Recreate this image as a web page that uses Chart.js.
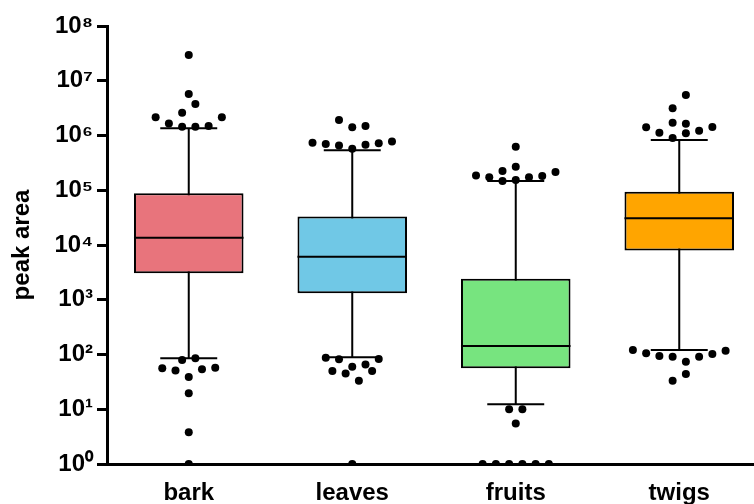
<!DOCTYPE html>
<html>
<head>
<meta charset="utf-8">
<script src="https://cdn.jsdelivr.net/npm/chart.js@4/dist/chart.umd.min.js"></script>
<style>
  html, body { margin: 0; padding: 0; background: #fff; overflow: hidden; }
  /* plot runs a little past the right edge of the window, as in the original */
  #wrap { width: 765px; height: 504px; }
</style>
</head>
<body>
<div id="wrap"><canvas id="boxChart"></canvas></div>
<script>
// box statistics (log scale)
const categories = ['bark', 'leaves', 'fruits', 'twigs'];
const q1 = [3040, 1310, 56, 7900];
const median = [13600, 6100, 143, 30700];
const q3 = [88000, 33000, 2430, 94000];
const whiskerLow = [85, 89, 12.3, 121];
const whiskerHigh = [1.35e6, 5.4e5, 1.48e5, 8.3e5];
const tickExponents = [0, 1, 2, 3, 4, 5, 6, 7, 8];

// outliers per group, with their swarm lane (half-steps left/right of centre)
const barkOutliers = [2.95e7, 5.7e6, 3.76e6, 2.6e6, 2.15e6, 2.15e6, 1.66e6, 1.44e6, 1.44e6, 1.49e6,
    79, 85, 56, 51, 54, 57.5, 39, 19.5, 3.8, 1];
const barkLanes = [0, 0, 0.5, -0.5, -2.5, 2.5, -1.5, -0.5, 0.5, 1.5,
    -0.5, 0.5, -2, -1, 1, 2, 0, 0, 0, 0];
const leavesOutliers = [1.92e6, 1.42e6, 1.49e6, 7.4e5, 7.0e5, 6.6e5, 5.7e5, 6.8e5, 7.2e5, 7.8e5,
    87, 82, 83, 50, 45, 60, 66, 50, 33, 1];
const leavesLanes = [-1, 0, 1, -3, -2, -1, 0, 1, 2, 3,
    -2, -1, 2, -1.5, -0.5, 0, 1, 1.5, 0.5, 0];
const fruitsOutliers = [6.25e5, 2.7e5, 2.25e5, 1.85e5, 1.72e5, 1.48e5, 1.54e5, 1.72e5, 1.82e5, 2.15e5,
    10, 10, 5.5, 1, 1, 1, 1, 1, 1];
const fruitsLanes = [0, 0, -1, -3, -2, -1, 0, 1, 2, 3,
    -0.5, 0.5, 0, -2.5, -1.5, -0.5, 0.5, 1.5, 2.5];
const twigsOutliers = [5.5e6, 3.14e6, 1.71e6, 1.64e6, 1.41e6, 1.12e6, 1.1e6, 1.22e6, 1.43e6, 9.0e5,
    121, 105, 94, 91, 74, 91, 102, 117, 44, 33];
const twigsLanes = [0.5, -0.5, -0.5, 0.5, -2.5, -1.5, 0.5, 1.5, 2.5, -0.5,
    -3.5, -2.5, -1.5, -0.5, 0.5, 1.5, 2.5, 3.5, 0.5, -0.5];

const boxColors = ['#E8747C', '#70C8E6', '#77E47F', '#FFA500'];
const laneStep = 0.081; // fraction of a category per swarm lane

const outlierGroups = [
    [barkOutliers, barkLanes],
    [leavesOutliers, leavesLanes],
    [fruitsOutliers, fruitsLanes],
    [twigsOutliers, twigsLanes]
];
let outlierPoints = [];
outlierGroups.forEach(([vals, lanes], i) => {
    vals.forEach((v, k) => outlierPoints.push({ x: i + lanes[k] * laneStep, y: v }));
});

const supDigits = ['\u2070', '\u00B9', '\u00B2', '\u00B3', '\u2074', '\u2075', '\u2076', '\u2077', '\u2078', '\u2079'];

const boxPlugin = {
    id: 'boxExtras',
    beforeDatasetsDraw(chart) {
        const ctx = chart.ctx, xs = chart.scales.x, ys = chart.scales.y;
        const meta = chart.getDatasetMeta(1);
        ctx.save();
        ctx.strokeStyle = '#000';
        ctx.lineWidth = 2;
        categories.forEach((c, i) => {
            const x = xs.getPixelForValue(i);
            const half = meta.data[i].width * 0.26;
            const yLo = ys.getPixelForValue(whiskerLow[i]);
            const yHi = ys.getPixelForValue(whiskerHigh[i]);
            ctx.beginPath();
            ctx.moveTo(x, yLo); ctx.lineTo(x, yHi);
            ctx.moveTo(x - half, yLo); ctx.lineTo(x + half, yLo);
            ctx.moveTo(x - half, yHi); ctx.lineTo(x + half, yHi);
            ctx.stroke();
        });
        ctx.restore();
    },
    afterDatasetDraw(chart, args) {
        if (args.index !== 1) return;
        const ctx = chart.ctx, ys = chart.scales.y;
        ctx.save();
        ctx.strokeStyle = '#000';
        ctx.lineWidth = 2;
        args.meta.data.forEach((bar, i) => {
            const y = ys.getPixelForValue(median[i]);
            ctx.beginPath();
            ctx.moveTo(bar.x - bar.width / 2, y);
            ctx.lineTo(bar.x + bar.width / 2, y);
            ctx.stroke();
        });
        ctx.restore();
    }
};

const ctx = document.getElementById('boxChart').getContext('2d');
new Chart(ctx, {
    data: {
        labels: categories,
        datasets: [
            {
                type: 'scatter',
                data: outlierPoints,
                xAxisID: 'xs',
                pointRadius: 4,
                pointHoverRadius: 4,
                backgroundColor: '#000',
                borderColor: '#000',
                borderWidth: 0,
                clip: { left: false, right: false, top: false, bottom: 0 }
            },
            {
                type: 'bar',
                data: categories.map((c, i) => [q1[i], q3[i]]),
                backgroundColor: boxColors,
                borderColor: '#000',
                borderWidth: 2,
                borderSkipped: false,
                grouped: false,
                categoryPercentage: 1,
                barPercentage: 0.67
            }
        ]
    },
    options: {
        responsive: true,
        maintainAspectRatio: false,
        animation: false,
        layout: { padding: { top: 26, right: 0, left: 0, bottom: 0 } },
        plugins: { legend: { display: false }, tooltip: { enabled: false } },
        scales: {
            x: {
                type: 'category',
                grid: { display: false, drawTicks: false },
                border: { display: true, color: '#000', width: 3 },
                ticks: {
                    color: '#000',
                    padding: 15,
                    font: { family: 'Liberation Sans, Arial, sans-serif', size: 24, weight: 'bold' }
                },
                afterFit(axis) { axis.height = 40; }
            },
            xs: {
                type: 'linear',
                display: false,
                min: -0.5,
                max: 3.5
            },
            y: {
                type: 'logarithmic',
                min: 1,
                max: 1e8,
                afterBuildTicks(axis) {
                    axis.ticks = tickExponents.map(e => ({ value: Math.pow(10, e) }));
                },
                grid: {
                    display: true,
                    drawOnChartArea: false,
                    drawTicks: true,
                    tickLength: 10,
                    tickWidth: 3,
                    tickColor: '#000'
                },
                border: { display: true, color: '#000', width: 3 },
                ticks: {
                    color: '#000',
                    padding: 4,
                    font: { family: 'Liberation Sans, Arial, sans-serif', size: 24, weight: 'bold' },
                    callback: (v) => {
                        const e = Math.round(Math.log10(v));
                        return '10' + supDigits[e];
                    }
                },
                title: {
                    display: true,
                    text: 'peak area',
                    color: '#000',
                    padding: { top: 8, bottom: 0 },
                    font: { family: 'Liberation Sans, Arial, sans-serif', size: 24, weight: 'bold' }
                },
                afterFit(axis) { axis.width = 107; }
            }
        }
    },
    plugins: [boxPlugin]
});
</script>
</body>
</html>
